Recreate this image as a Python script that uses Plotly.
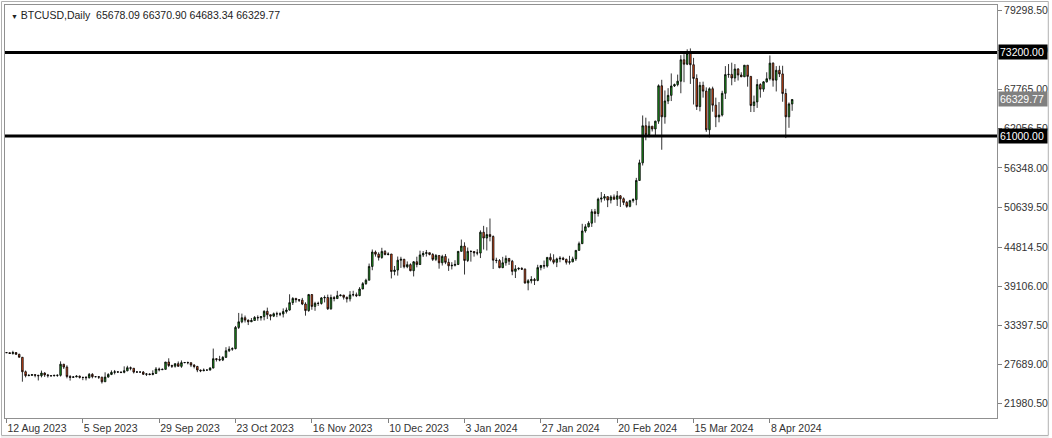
import plotly.graph_objects as go

# ---- data (BTCUSD daily, 12 Aug 2023 .. 15 Apr 2024) ----
start_date = "2023-08-12"
opens = [29420, 29400, 29280, 29420, 29170, 28730, 26620, 26050, 26100, 26190, 26120, 26040, 26430, 26160, 26050, 26010, 26090, 26100, 27720, 27300,
         25930, 25800, 25870, 25970, 25810, 25790, 25750, 26240, 25900, 25900, 25830, 25160, 25840, 26230, 26530, 26610, 26570, 26530, 26760, 27210,
         27130, 26570, 26580, 26580, 26250, 26300, 26220, 26370, 27020, 26910, 26970, 28040, 27530, 27430, 27800, 27410, 27950, 27970, 27940, 27590,
         27390, 26870, 26760, 26860, 26860, 27160, 28520, 28420, 28330, 28720, 29680, 29910, 29990, 33090, 33900, 34500, 34150, 33910, 34090, 34540,
         34490, 34660, 35440, 34940, 34730, 35080, 35050, 35040, 35400, 35620, 36700, 37310, 37130, 37060, 36500, 35540, 37880, 36150, 36600, 36580,
         37390, 37450, 35800, 37450, 37290, 37720, 37800, 37480, 37250, 37830, 37860, 37720, 38690, 39470, 39970, 41980, 44080, 43770, 43290, 44170,
         43720, 43790, 41240, 41450, 42890, 43020, 41930, 42240, 41360, 42660, 42260, 43660, 43870, 43990, 43730, 43010, 43580, 42510, 43440, 42580,
         42070, 42140, 42270, 44180, 44950, 42850, 44180, 44160, 43960, 43930, 46970, 46120, 46630, 46350, 42890, 42840, 41800, 42510, 43150, 42740,
         41260, 41620, 41690, 41580, 39570, 39890, 40080, 39940, 41810, 42120, 42030, 43300, 42950, 42580, 43080, 43180, 43010, 42580, 42660, 43080,
         44320, 45300, 47150, 47770, 48290, 49960, 49700, 51800, 51940, 52160, 51660, 52120, 51780, 52280, 51850, 51320, 50740, 51570, 51730, 54520,
         57090, 62500, 61200, 62440, 62030, 63170, 68330, 63800, 66110, 66930, 68300, 68500, 69000, 72120, 71480, 73070, 71400, 69400, 65300, 68390,
         67550, 61910, 67900, 65500, 63780, 64060, 67230, 69960, 69990, 69460, 70780, 69900, 69640, 71330, 69700, 65450, 65980, 68510, 67840, 68900,
         69360, 71630, 69150, 70590, 70060, 67200, 63800, 65678.09]
highs = [29480, 29450, 29680, 29480, 29230, 28770, 26800, 26250, 26280, 26250, 26130, 26790, 26550, 26300, 26100, 26180, 26230, 28140, 27760, 27560,
         26130, 25970, 26120, 26080, 25860, 26000, 26440, 26420, 25940, 25990, 25880, 26540, 26400, 26820, 26880, 26670, 26620, 27410, 27490, 27380,
         27150, 26730, 26630, 26720, 26430, 26390, 26830, 27300, 27230, 27090, 28050, 28580, 27650, 27830, 28120, 28270, 28010, 28100, 27990, 27730,
         27480, 26940, 27100, 26960, 27290, 30000, 28620, 28940, 28900, 30200, 30330, 30190, 33300, 35200, 35100, 34820, 34230, 34460, 34740, 34850,
         34700, 35580, 35970, 34950, 35260, 35380, 35280, 35860, 35980, 37920, 37500, 37400, 37200, 37390, 36750, 37970, 37930, 36830, 36840, 37520,
         37750, 37870, 37870, 37650, 38420, 37900, 37830, 37580, 38380, 38430, 38170, 38960, 39700, 40190, 42400, 44450, 44300, 44040, 44700, 44370,
         44040, 43800, 42050, 43420, 43390, 43090, 42710, 42430, 42750, 43400, 44280, 44220, 44380, 44000, 43920, 43790, 43600, 43680, 43790, 43130,
         42600, 42890, 44230, 45900, 45500, 44740, 44340, 44230, 44490, 47240, 47900, 47700, 48970, 46500, 43250, 43060, 43380, 43580, 43200, 42930,
         42170, 41860, 41870, 41700, 40130, 40560, 40300, 42220, 42200, 42840, 43310, 43880, 43750, 43260, 43480, 43380, 43120, 43530, 43400, 44370,
         45600, 48200, 48140, 48580, 50330, 50370, 52020, 52830, 52550, 52180, 52370, 52480, 52980, 52380, 52050, 51520, 51690, 51930, 54900, 57550,
         64000, 63680, 63140, 62440, 63230, 68530, 69200, 67650, 67980, 70130, 68650, 69960, 72790, 72940, 73650, 73780, 72400, 70000, 68900, 68930,
         68100, 68100, 68200, 66600, 65950, 67600, 71200, 71500, 71700, 71500, 70900, 70300, 71350, 71350, 69700, 66900, 69300, 68700, 69000, 70300,
         72750, 71750, 71200, 71250, 71250, 67900, 65900, 66370.90]
lows = [29360, 29250, 29110, 29060, 28720, 25170, 25800, 25980, 26010, 25810, 25350, 25800, 25860, 25770, 25980, 25970, 25880, 25920, 27020, 25660,
        25330, 25720, 25800, 25630, 25390, 25360, 25620, 25660, 25800, 25570, 24900, 25130, 25760, 26130, 26230, 26480, 26410, 26390, 26680, 26830,
        26370, 26490, 26500, 26150, 26000, 26100, 26100, 26320, 26670, 26890, 26940, 27300, 27170, 27220, 27370, 27190, 27860, 27700, 27300, 27110,
        26560, 26560, 26700, 26810, 26820, 27120, 28110, 28150, 28180, 28620, 29490, 29680, 29890, 32850, 33700, 33800, 33430, 33860, 34060, 34050,
        34080, 34120, 34320, 34120, 34590, 34580, 34730, 34540, 35120, 35530, 36360, 36710, 36790, 36340, 34800, 35370, 35660, 35510, 36220, 36410,
        36730, 35640, 35660, 36890, 37250, 37610, 37150, 36720, 36870, 37600, 37510, 37640, 38660, 39290, 39960, 41430, 43410, 42840, 43090, 43600,
        43590, 40230, 40690, 40640, 41770, 41690, 41720, 41270, 40520, 41850, 42200, 43350, 43420, 43600, 42770, 42760, 41650, 42110, 42310, 41330,
        41540, 41980, 42180, 44150, 40800, 42620, 42680, 43410, 43600, 43200, 44450, 44300, 45640, 41600, 42450, 41720, 41730, 42090, 42200, 40700,
        40290, 41430, 41490, 39450, 38500, 39500, 39270, 39820, 41410, 41640, 41820, 42720, 42300, 41880, 42590, 42880, 42260, 42260, 42580, 42790,
        44330, 45250, 46900, 47660, 47740, 48350, 49260, 51320, 51580, 50630, 51170, 51700, 50800, 50650, 50920, 50530, 50600, 51280, 50900, 54460,
        56700, 60380, 60800, 61660, 61140, 62780, 59000, 62800, 65660, 66100, 68150, 68250, 67240, 68850, 71340, 68600, 65600, 64800, 64600, 66600,
        61600, 60800, 64550, 62300, 63000, 63850, 66400, 69500, 68400, 68900, 69100, 69600, 69600, 68200, 64500, 64500, 65100, 66600, 67450, 68800,
        69100, 68200, 67500, 69600, 66000, 60700, 62200, 64683.34]
closes = [29400, 29280, 29420, 29170, 28730, 26620, 26050, 26100, 26190, 26120, 26040, 26430, 26160, 26050, 26010, 26090, 26100, 27720, 27300, 25930,
          25800, 25870, 25970, 25810, 25790, 25750, 26240, 25900, 25900, 25830, 25160, 25840, 26230, 26530, 26610, 26570, 26530, 26760, 27210, 27130,
          26570, 26580, 26580, 26250, 26300, 26220, 26370, 27020, 26910, 26970, 28040, 27530, 27430, 27800, 27410, 27950, 27970, 27940, 27590, 27390,
          26870, 26760, 26860, 26860, 27160, 28520, 28420, 28330, 28720, 29680, 29910, 29990, 33090, 33900, 34500, 34150, 33910, 34090, 34540, 34490,
          34660, 35440, 34940, 34730, 35080, 35050, 35040, 35400, 35620, 36700, 37310, 37130, 37060, 36500, 35540, 37880, 36150, 36600, 36580, 37390,
          37450, 35800, 37450, 37290, 37720, 37800, 37480, 37250, 37830, 37860, 37720, 38690, 39470, 39970, 41980, 44080, 43770, 43290, 44170, 43720,
          43790, 41240, 41450, 42890, 43020, 41930, 42240, 41360, 42660, 42260, 43660, 43870, 43990, 43730, 43010, 43580, 42510, 43440, 42580, 42070,
          42140, 42270, 44180, 44950, 42850, 44180, 44160, 43960, 43930, 46970, 46120, 46630, 46350, 42890, 42840, 41800, 42510, 43150, 42740, 41260,
          41620, 41690, 41580, 39570, 39890, 40080, 39940, 41810, 42120, 42030, 43300, 42950, 42580, 43080, 43180, 43010, 42580, 42660, 43080, 44320,
          45300, 47150, 47770, 48290, 49960, 49700, 51800, 51940, 52160, 51660, 52120, 51780, 52280, 51850, 51320, 50740, 51570, 51730, 54520, 57090,
          62500, 61200, 62440, 62030, 63170, 68330, 63800, 66110, 66930, 68300, 68500, 69000, 72120, 71480, 73070, 71400, 69400, 65300, 68390, 67550,
          61910, 67900, 65500, 63780, 64060, 67230, 69960, 69990, 69460, 70780, 69900, 69640, 71330, 69700, 65450, 65980, 68510, 67840, 68900, 69360,
          71630, 69150, 70590, 70060, 67200, 63800, 65678, 66329.77]

x_tick_labels = ["12 Aug 2023", "5 Sep 2023", "29 Sep 2023", "23 Oct 2023", "16 Nov 2023", "10 Dec 2023",
                 "3 Jan 2024", "27 Jan 2024", "20 Feb 2024", "15 Mar 2024", "8 Apr 2024"]
y_tick_values = [79298.50, 73473.50, 67765.00, 62056.50, 56348.00, 50639.50, 44814.50, 39106.00, 33397.50, 27689.00, 21980.50]
levels = [73200.00, 61000.00]
last_price = 66329.77
title_text = "BTCUSD,Daily  65678.09 66370.90 64683.34 66329.77"

bar_index = list(range(len(closes)))
x_tick_pos = [i * 24 for i in range(len(x_tick_labels))]

FONT = "Liberation Sans, Arial, sans-serif"

fig = go.Figure()
fig.add_trace(go.Candlestick(
    x=bar_index, open=opens, high=highs, low=lows, close=closes,
    increasing=dict(fillcolor="#1fa01f", line=dict(color="#000000", width=0.8)),
    decreasing=dict(fillcolor="#e8501a", line=dict(color="#000000", width=0.8)),
    whiskerwidth=0, showlegend=False, hoverinfo="skip",
))

for lv in levels:
    fig.add_shape(type="line", xref="paper", x0=0, x1=1, yref="y", y0=lv, y1=lv,
                  line=dict(color="#000000", width=3), layer="above")

# price labels on the axis
for lv in levels:
    fig.add_annotation(xref="paper", x=1, xanchor="left", xshift=1, yref="y", y=lv, yanchor="middle",
                       text=f"{lv:.2f}", showarrow=False, bgcolor="#000000",
                       font=dict(family=FONT, size=10.5, color="#ffffff"),
                       width=46, align="left", borderpad=1)
fig.add_annotation(xref="paper", x=1, xanchor="left", xshift=1, yref="y", y=last_price, yanchor="middle",
                   text=f"{last_price:.2f}", showarrow=False, bgcolor="#808080",
                   font=dict(family=FONT, size=10.5, color="#ffffff"),
                   width=46, align="left", borderpad=1)

fig.add_annotation(xref="paper", yref="paper", x=0, y=1, xanchor="left", yanchor="top", xshift=4, yshift=-2,
                   text="<span style='font-size:7px'>▼</span> " + title_text, showarrow=False,
                   font=dict(family=FONT, size=10.5, color="#222222"))

# outer window frame and bottom strip
fig.add_shape(type="rect", xref="paper", yref="paper", x0=-4/996, x1=1048/996, y0=-18/414, y1=-20/414,
              fillcolor="#f0f0f0", line=dict(width=0), layer="below")
fig.add_shape(type="rect", xref="paper", yref="paper", x0=-3.5/996, x1=1047.5/996, y0=-17.5/414, y1=1 + 3.5/414,
              line=dict(color="#b0b0b0", width=1), fillcolor="rgba(0,0,0,0)", layer="below")

fig.update_layout(
    width=1052, height=438,
    margin=dict(l=4, r=52, t=4, b=20),
    paper_bgcolor="#ffffff", plot_bgcolor="#ffffff",
    font=dict(family=FONT, size=10.5, color="#333333"),
    showlegend=False,
    xaxis=dict(
        range=[-0.47, 311.4], rangeslider=dict(visible=False),
        tickmode="array", tickvals=x_tick_pos, ticktext=x_tick_labels,
        ticks="outside", ticklen=4, tickcolor="#808080", ticklabelposition="outside right",
        showgrid=False, zeroline=False, showline=True, linecolor="#909090", linewidth=1, mirror=True,
        tickfont=dict(family=FONT, size=10.5, color="#333333"),
    ),
    yaxis=dict(
        side="right", range=[19874, 80111],
        tickmode="array", tickvals=y_tick_values, ticktext=[f"{v:.2f}" for v in y_tick_values],
        ticks="outside", ticklen=4, tickcolor="#808080",
        showgrid=False, zeroline=False, showline=True, linecolor="#909090", linewidth=1, mirror=True,
        tickfont=dict(family=FONT, size=10.5, color="#333333"),
    ),
)

fig.write_html("out.html", config={"displayModeBar": False},
               post_script="document.body.style.margin='0';document.body.style.overflow='hidden';")
